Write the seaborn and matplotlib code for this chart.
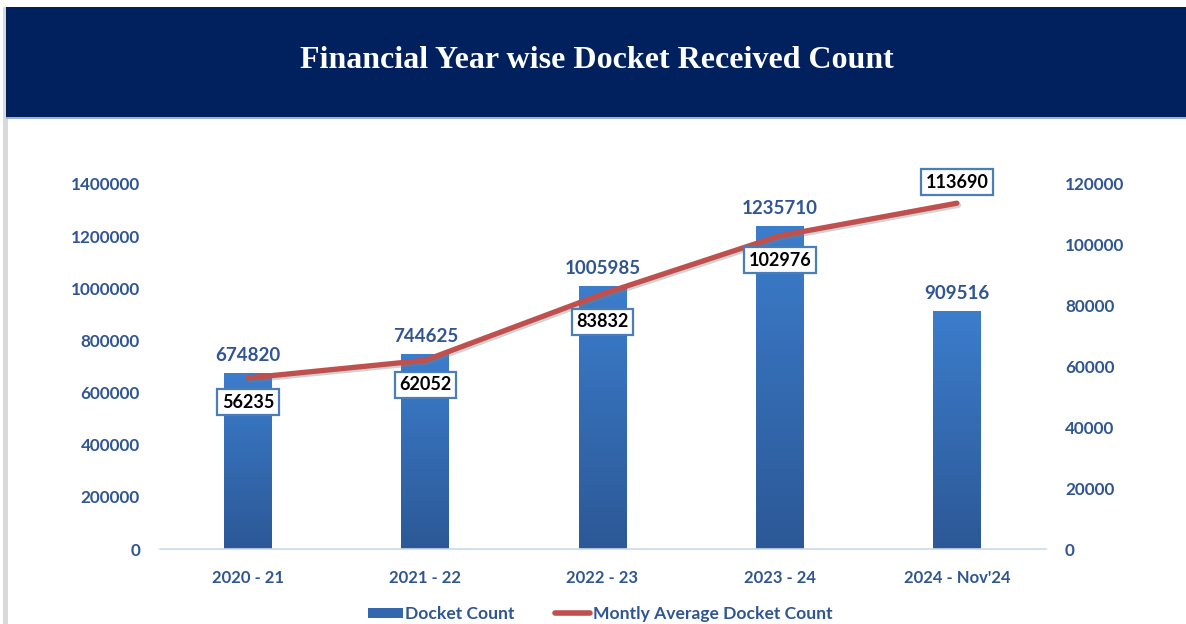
import numpy as np
import pandas as pd
import matplotlib
matplotlib.use("Agg")
import matplotlib.pyplot as plt
import matplotlib.patheffects as pe
from matplotlib.patches import Rectangle, Patch
from matplotlib.lines import Line2D
import seaborn as sns

# ---- data ----
years = ["2020 - 21", "2021 - 22", "2022 - 23", "2023 - 24", "2024 - Nov'24"]
docket_count = [674820, 744625, 1005985, 1235710, 909516]
monthly_avg = [56235, 62052, 83832, 102976, 113690]
left_ticks = [0, 200000, 400000, 600000, 800000, 1000000, 1200000, 1400000]
right_ticks = [0, 20000, 40000, 60000, 80000, 100000, 120000]

title = "Financial Year wise Docket Received Count"
bar_name = "Docket Count"
line_name = "Montly Average Docket Count"

df = pd.DataFrame({"year": years, "count": docket_count, "avg": monthly_avg})

# ---- style ----
sns.set_theme(style="white")
plt.rcParams["font.family"] = ["Lato", "DejaVu Sans"]

TICK_BLUE = "#2F5592"
NAVY = "#00205E"
LINE_RED = "#C0504D"
BOX_EDGE = "#4A7EBB"

W, H = 1186, 624
fig = plt.figure(figsize=(W / 100, H / 100), dpi=100)
fig.patch.set_facecolor("white")

# header band and frame
fig.add_artist(Rectangle((3 / W, 0), 5 / W, (H - 7) / H, transform=fig.transFigure,
                         facecolor="#D9D9D9", edgecolor="none", zorder=0))
fig.add_artist(Rectangle((6 / W, (H - 117) / H), 1 - 6 / W, 110 / H, transform=fig.transFigure,
                         facecolor=NAVY, edgecolor="none", zorder=1))
fig.add_artist(Rectangle((6 / W, (H - 118.5) / H), 1 - 6 / W, 1.5 / H, transform=fig.transFigure,
                         facecolor="#9FB3D6", edgecolor="none", zorder=1))
fig.text(597 / W, 1 - 61 / H, title, color="white", fontsize=23, fontweight="bold",
         family="Liberation Serif", ha="center", va="center", zorder=2)

# axes
ax = fig.add_axes([159.5 / W, 75 / H, 886 / W, 365 / H])
ax.set_facecolor("none")

sns.barplot(data=df, x="year", y="count", ax=ax, color="#3A75C0", width=0.27,
            saturation=1, edgecolor="none", zorder=2)

ymax_left = left_ticks[-1]

# vertical gradient on each bar, value above it
grad = np.linspace(0, 1, 256).reshape(-1, 1)
cmap = matplotlib.colors.LinearSegmentedColormap.from_list("bar", ["#2C5896", "#3C7DCC"])
for p in ax.patches:
    x0, w, h = p.get_x(), p.get_width(), p.get_height()
    ax.imshow(grad, extent=(x0, x0 + w, 0, h), origin="lower", aspect="auto",
              cmap=cmap, zorder=2.5)
    ax.annotate(f"{int(h)}", (x0 + w / 2, h), xytext=(0, 13), textcoords="offset points",
                ha="center", va="center", fontsize=13.5, fontweight="bold", color=TICK_BLUE)
ax.set_ylim(0, ymax_left)
ax.set_xlim(-0.5, len(years) - 0.5)

for s in ["top", "right", "left"]:
    ax.spines[s].set_visible(False)
ax.spines["bottom"].set_color("#CAD9EE")
ax.spines["bottom"].set_linewidth(1.2)
ax.set_yticks(left_ticks)
ax.set_yticklabels([str(t) for t in left_ticks])
ax.tick_params(axis="y", length=0, pad=14, labelsize=12.3, labelcolor=TICK_BLUE)
ax.tick_params(axis="x", length=0, pad=15, labelsize=12, labelcolor=TICK_BLUE)
for lbl in ax.get_xticklabels() + ax.get_yticklabels():
    lbl.set_fontweight("bold")
ax.set_xlabel("")
ax.set_ylabel("")
ax.grid(False)

# monthly average line on the secondary axis
ax2 = ax.twinx()
ax2.set_facecolor("none")
positions = np.arange(len(years))
sns.lineplot(x=positions, y=monthly_avg, ax=ax2, color=LINE_RED, linewidth=3.8,
             solid_capstyle="round", zorder=4,
             path_effects=[pe.SimpleLineShadow(offset=(1.2, -1.5), shadow_color="#7f7f7f", alpha=0.35),
                           pe.Normal()])
ax2.set_ylim(0, right_ticks[-1])
ax2.set_xlim(-0.5, len(years) - 0.5)
for s in ["top", "right", "left", "bottom"]:
    ax2.spines[s].set_visible(False)
ax2.set_yticks(right_ticks)
ax2.set_yticklabels([str(t) for t in right_ticks])
ax2.tick_params(axis="y", length=0, pad=14, labelsize=12.3, labelcolor=TICK_BLUE)
for lbl in ax2.get_yticklabels():
    lbl.set_fontweight("bold")
ax2.set_ylabel("")
ax2.grid(False)

offsets = [-17.5, -17.5, -20, -17.5, 15]
for xp, v, dy in zip(positions, monthly_avg, offsets):
    ax2.annotate(f"{v}", (xp, v), xytext=(0, dy), textcoords="offset points",
                 ha="center", va="center", fontsize=13, fontweight="bold", color="black",
                 zorder=6,
                 bbox=dict(boxstyle="square,pad=0.25", facecolor="white",
                           edgecolor=BOX_EDGE, linewidth=1.6))

# legend
handles = [Patch(facecolor="#3467AE", edgecolor="none"),
           Line2D([0], [0], color=LINE_RED, linewidth=4, solid_capstyle="round")]
fig.legend(handles, [bar_name, line_name], loc="center", bbox_to_anchor=(600 / W, 1 - 614 / H),
           ncol=2, frameon=False, handlelength=2.0, handleheight=0.55, handletextpad=0.15,
           columnspacing=2.3, prop={"family": "Lato", "weight": "bold", "size": 12.6},
           labelcolor=TICK_BLUE)

fig.savefig("out.png", dpi=100, facecolor="white")
